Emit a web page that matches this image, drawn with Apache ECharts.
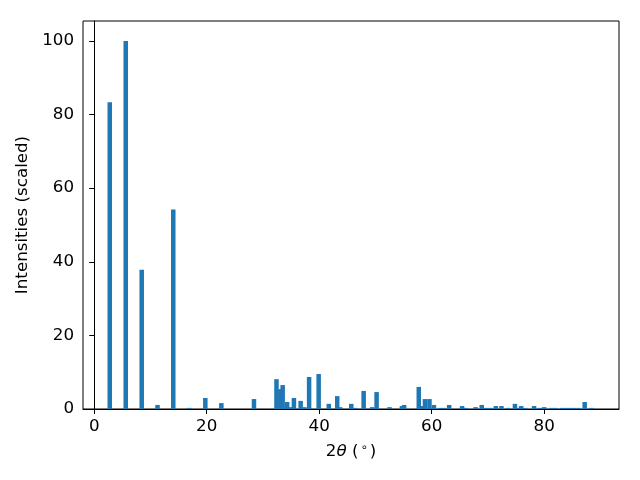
<!DOCTYPE html>
<html>
<head>
<meta charset="utf-8">
<script src="https://cdn.jsdelivr.net/npm/echarts@6/dist/echarts.min.js"></script>
<style>html,body{margin:0;padding:0;background:#fff}#c{width:640px;height:480px}</style>
</head>
<body>
<div id="c"></div>
<script>
const twoTheta = [2.76, 5.6, 8.44, 11.25, 14.05, 16.9, 19.75, 22.6, 28.4,
  32.4, 33.1, 33.5, 34.3, 35.0, 35.5, 36.7, 37.35, 38.2, 39.9, 41.7, 43.2, 43.7,
  45.7, 46.4, 47.9, 49.4, 50.2, 52.5, 54.7, 55.1, 57.7, 58.4, 58.8, 59.6, 60.4,
  61.5, 62.2, 63.1, 65.4, 66.0, 67.8, 68.9, 69.6, 70.4, 71.4, 72.4, 73.6, 74.8,
  75.4, 75.9, 76.6, 78.2, 79.2, 80.0, 81.3, 82.0, 83.2, 83.9, 84.6, 85.3, 86.1,
  87.2, 88.4];
const intensity = [83.3, 100, 37.8, 1.1, 54.2, 0.3, 3.0, 1.6, 2.7,
  8.1, 5.4, 6.5, 1.9, 0.5, 3.0, 2.2, 0.5, 8.7, 9.5, 1.4, 3.5, 0.5,
  1.4, 0.3, 4.9, 0.5, 4.6, 0.5, 0.8, 1.1, 6.0, 0.8, 2.7, 2.7, 1.1,
  0.3, 0.3, 1.1, 0.8, 0.3, 0.5, 1.1, 0.3, 0.3, 0.8, 0.8, 0.3, 1.4,
  0.3, 0.8, 0.3, 0.8, 0.3, 0.5, 0.3, 0.3, 0.3, 0.3, 0.3, 0.3, 0.3,
  1.9, 0.3];
const xTicks = [0, 20, 40, 60, 80];
const yTicks = [0, 20, 40, 60, 80, 100];
const barWidth = 0.8;

const data = twoTheta.map((x, i) => [x, intensity[i]]);
const font = 'DejaVu Sans';
const chart = echarts.init(document.getElementById('c'), null, {renderer: 'canvas'});
chart.setOption({
  animation: false,
  backgroundColor: '#fff',
  grid: {left: 83, right: 21, top: 21, bottom: 71, show: true, borderColor: '#000', borderWidth: 1, backgroundColor: 'transparent'},
  xAxis: {
    type: 'value', min: -2, max: 93.3,
    axisLine: {show: true, onZero: false, lineStyle: {color: '#000', width: 1}},
    axisTick: {show: true, length: 5, customValues: xTicks, lineStyle: {color: '#000'}},
    axisLabel: {customValues: xTicks, margin: 9, color: '#000', fontFamily: font, fontSize: 16.7},
    splitLine: {show: false},
    name: '{n|2}{i|θ}{n| (}{s|∘}{n|)}',
    nameLocation: 'middle', nameGap: 33,
    nameTextStyle: {
      color: '#000', fontFamily: font, fontSize: 16.7,
      rich: {
        n: {fontFamily: font, fontSize: 16.7, color: '#000'},
        i: {fontFamily: font, fontSize: 16.7, fontStyle: 'italic', color: '#000'},
        s: {fontFamily: font, fontSize: 11.5, color: '#000', verticalAlign: 'top', padding: [0, 2, 8, 2]}
      }
    }
  },
  yAxis: {
    type: 'value', min: 0, max: 105.4,
    axisLine: {show: true, lineStyle: {color: '#000', width: 1}},
    axisTick: {show: true, length: 5, customValues: yTicks, lineStyle: {color: '#000'}},
    axisLabel: {customValues: yTicks, margin: 9, color: '#000', fontFamily: font, fontSize: 16.7},
    splitLine: {show: false},
    name: 'Intensities (scaled)', nameLocation: 'middle', nameGap: 45,
    nameTextStyle: {color: '#000', fontFamily: font, fontSize: 16.7}
  },
  series: [{
    type: 'custom',
    clip: true,
    data: data,
    encode: {x: 0, y: 1},
    renderItem: function (params, api) {
      const x = api.value(0), y = api.value(1);
      const p0 = api.coord([x - barWidth / 2, y]);
      const p1 = api.coord([x + barWidth / 2, 0]);
      return {
        type: 'rect',
        shape: {x: p0[0], y: p0[1], width: p1[0] - p0[0], height: p1[1] - p0[1]},
        style: {fill: '#1f77b4'}
      };
    }
  }]
});
</script>
</body>
</html>
